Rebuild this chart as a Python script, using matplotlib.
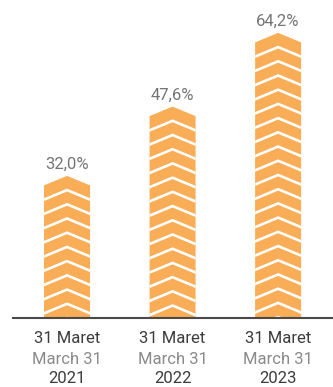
import matplotlib.pyplot as plt
from matplotlib.patches import Polygon

# data
values = [32.0, 47.6, 64.2]
value_labels = ['32,0%', '47,6%', '64,2%']
labels_id = ['31 Maret', '31 Maret', '31 Maret']
labels_en = ['March 31', 'March 31', 'March 31']
years = ['2021', '2022', '2023']

orange = '#F9AD56'
font = ['Roboto', 'DejaVu Sans']

fig = plt.figure(figsize=(3.33, 3.87), dpi=100)
ax = fig.add_axes([13/333, 69/387, 320/333, 318/387])
ax.set_xlim(-0.512, 2.52)
ax.set_ylim(0, 71.6)

width = 0.436    # bar width
rise = 2.15      # chevron height
period = 3.2     # chevron spacing
half = width/2
ext = 0.05

for i, v in enumerate(values):
    x0, x1 = i - half, i + half
    bar = Polygon([(x0, 0), (x1, 0), (x1, v-rise), (i, v), (x0, v-rise)],
                  closed=True, fc=orange, ec='none', zorder=2)
    ax.add_patch(bar)
    # white chevron stripes
    k = 1
    while v - k*period > -period:
        yc = v - k*period
        drop = rise*(1 + ext/half)
        ln, = ax.plot([x0-ext, i, x1+ext], [yc-drop, yc, yc-drop],
                      color='white', lw=1.9, solid_joinstyle='miter', zorder=3)
        ln.set_clip_path(bar)
        k += 1

    ax.annotate(value_labels[i], (i, v), xytext=(0, 7), textcoords='offset pixels',
                ha='center', va='baseline', fontsize=12, color='#757575', family=font)
    ax.annotate(labels_id[i], (i, 0), xytext=(0, -25), textcoords='offset pixels',
                ha='center', va='baseline', fontsize=12, color='#3c3c3c', family=font,
                annotation_clip=False)
    ax.annotate(labels_en[i], (i, 0), xytext=(0, -46), textcoords='offset pixels',
                ha='center', va='baseline', fontsize=12, color='#8a8a8a', family=font,
                annotation_clip=False)
    ax.annotate(years[i], (i, 0), xytext=(0, -65), textcoords='offset pixels',
                ha='center', va='baseline', fontsize=12, color='#3c3c3c', family=font,
                annotation_clip=False)

for s in ['top', 'right', 'left']:
    ax.spines[s].set_visible(False)
ax.spines['bottom'].set_color('#4a4a4a')
ax.spines['bottom'].set_linewidth(1.5)
ax.spines['bottom'].set_zorder(4)
ax.set_xticks([])
ax.set_yticks([])
ax.patch.set_alpha(0)

fig.savefig('out.png', dpi=100)
